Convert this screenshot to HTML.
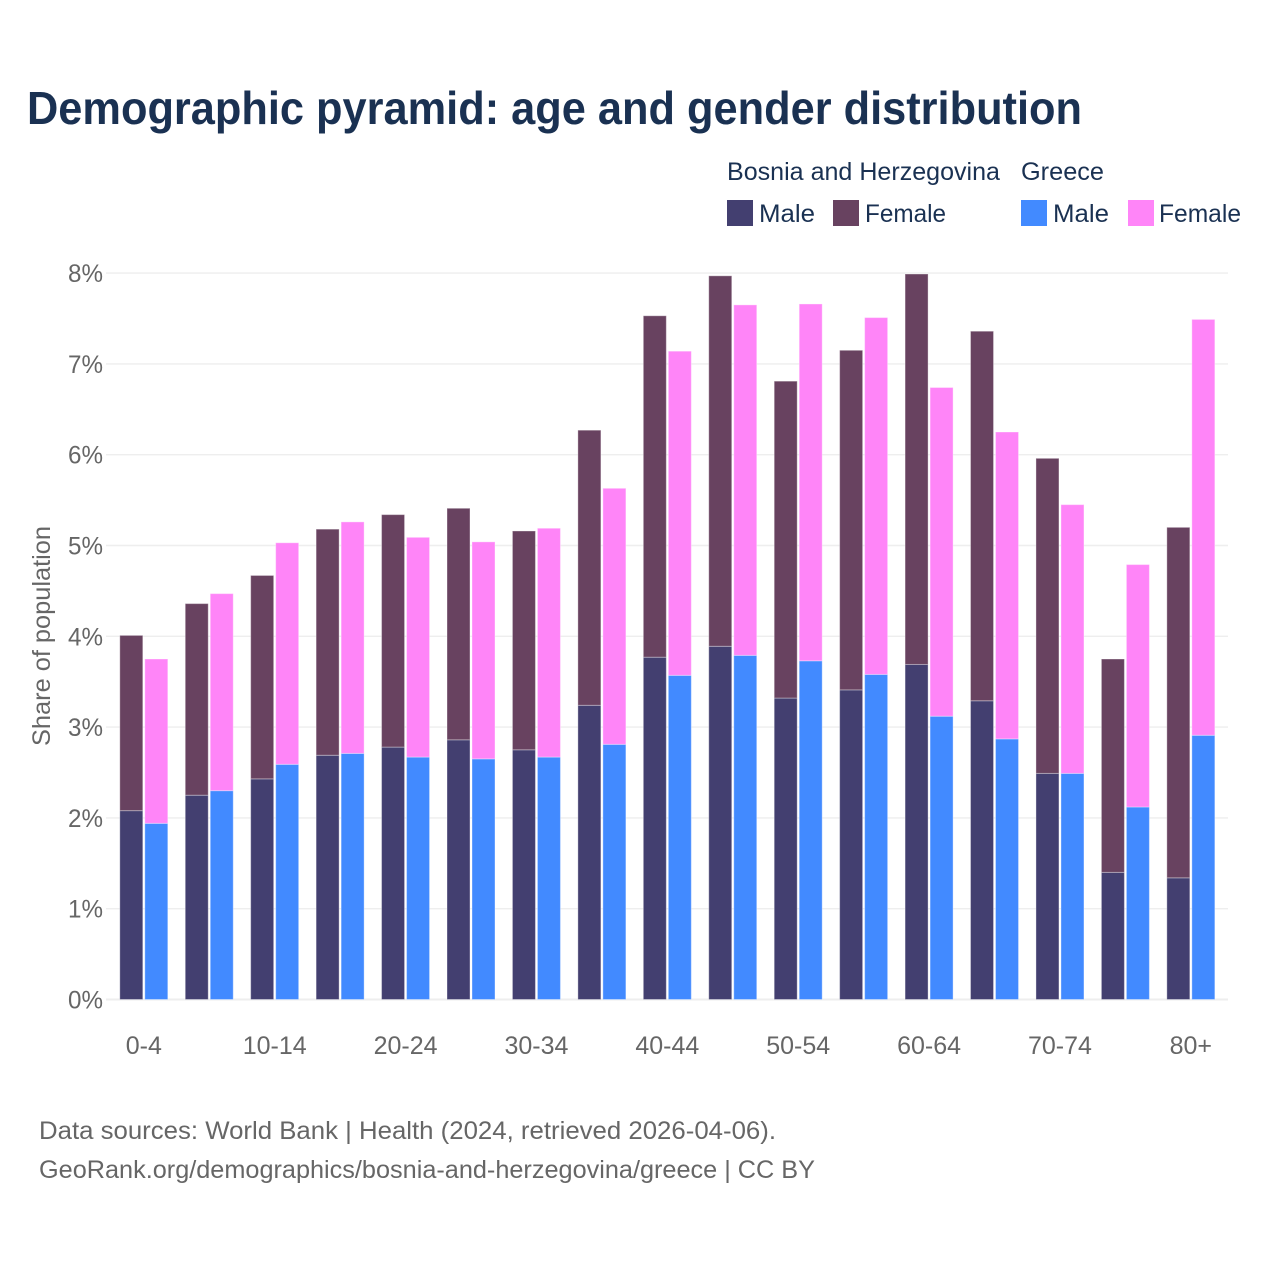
<!DOCTYPE html>
<html lang="en">
<head>
<meta charset="utf-8">
<title>Demographic pyramid: age and gender distribution</title>
<style>
html,body{margin:0;padding:0;background:#fff;}
svg{display:block;font-family:"Liberation Sans",sans-serif;}
</style>
</head>
<body>
<svg id="chart" width="1280" height="1280" viewBox="0 0 1280 1280" xmlns="http://www.w3.org/2000/svg">
  <rect width="1280" height="1280" fill="#ffffff"/>
  <text x="27" y="124" font-size="46" font-weight="700" fill="#1a3152" textLength="1055" lengthAdjust="spacingAndGlyphs">Demographic pyramid: age and gender distribution</text>

  <g font-size="25" fill="#1a3152">
    <text x="727" y="180" textLength="273" lengthAdjust="spacingAndGlyphs">Bosnia and Herzegovina</text>
    <text x="1021" y="180" textLength="83" lengthAdjust="spacingAndGlyphs">Greece</text>
    <rect x="727" y="200" width="26" height="26" fill="#433f70"/>
    <text x="759" y="222" textLength="56" lengthAdjust="spacingAndGlyphs">Male</text>
    <rect x="833" y="200" width="26" height="26" fill="#684260"/>
    <text x="865" y="222" textLength="81" lengthAdjust="spacingAndGlyphs">Female</text>
    <rect x="1021" y="200" width="26" height="26" fill="#428aff"/>
    <text x="1053" y="222" textLength="56" lengthAdjust="spacingAndGlyphs">Male</text>
    <rect x="1128" y="200" width="26" height="26" fill="#ff85f8"/>
    <text x="1159" y="222" textLength="82" lengthAdjust="spacingAndGlyphs">Female</text>
  </g>

  <g id="grid"></g>
  <g id="y-ticks" font-size="25" fill="#666666" text-anchor="end"></g>
  <g id="bars"></g>
  <g id="x-ticks" font-size="25" fill="#666666" text-anchor="middle"></g>

  <text transform="translate(50,636) rotate(-90)" text-anchor="middle" font-size="25" fill="#666666" textLength="220" lengthAdjust="spacingAndGlyphs">Share of population</text>

  <text x="39" y="1139" font-size="25" fill="#666666" textLength="737" lengthAdjust="spacingAndGlyphs">Data sources: World Bank | Health (2024, retrieved 2026-04-06).</text>
  <text x="39" y="1178" font-size="25" fill="#666666" textLength="776" lengthAdjust="spacingAndGlyphs">GeoRank.org/demographics/bosnia-and-herzegovina/greece | CC BY</text>
</svg>
<script>
const categories = ["0-4","5-9","10-14","15-19","20-24","25-29","30-34","35-39","40-44","45-49","50-54","55-59","60-64","65-69","70-74","75-79","80+"];
const bosniaMale = [2.08,2.25,2.43,2.69,2.78,2.86,2.75,3.24,3.77,3.89,3.32,3.41,3.69,3.29,2.49,1.40,1.34];
const bosniaFemale = [1.93,2.11,2.24,2.49,2.56,2.55,2.41,3.03,3.76,4.08,3.49,3.74,4.30,4.07,3.47,2.35,3.86];
const greeceMale = [1.94,2.30,2.59,2.71,2.67,2.65,2.67,2.81,3.57,3.79,3.73,3.58,3.12,2.87,2.49,2.12,2.91];
const greeceFemale = [1.81,2.17,2.44,2.55,2.42,2.39,2.52,2.82,3.57,3.86,3.93,3.93,3.62,3.38,2.96,2.67,4.58];
const yTicks = [0,1,2,3,4,5,6,7,8];

const NS = "http://www.w3.org/2000/svg";
const plotBottom = 999.5, plotUnit = 90.8;
const firstCenter = 143.8, bandStep = 65.44;
const barWidth = 23, barGap = 2;
const yScale = v => plotBottom - v * plotUnit;
const xScale = i => firstCenter + i * bandStep;
const gridGroup = document.getElementById("grid");
const yTickGroup = document.getElementById("y-ticks");
const barsGroup = document.getElementById("bars");
const xTickGroup = document.getElementById("x-ticks");

yTicks.forEach(t => {
  const line = document.createElementNS(NS, "line");
  
  
  line.setAttribute("x1", 106);
  line.setAttribute("x2", 1228);
  line.setAttribute("y1", yScale(t));
  line.setAttribute("y2", yScale(t));
  line.setAttribute("stroke", "#eeeeee");
  line.setAttribute("stroke-width", t === 0 ? 2 : 1.4);
  gridGroup.appendChild(line);

  const label = document.createElementNS(NS, "text");
  
  
  label.setAttribute("x", 103);
  label.setAttribute("y", yScale(t) + 9);
  label.setAttribute("textLength", 35);
  label.setAttribute("lengthAdjust", "spacingAndGlyphs");
  label.textContent = t + "%";
  yTickGroup.appendChild(label);
});

function addBar(name, x, base, value, fill) {
  const top = yScale(base + value);
  const bar = document.createElementNS(NS, "rect");
  
  
  bar.setAttribute("x", x);
  bar.setAttribute("y", top);
  bar.setAttribute("width", barWidth);
  bar.setAttribute("height", yScale(base) - top);
  bar.setAttribute("fill", fill);
  bar.setAttribute("stroke", "#ffffff");
  bar.setAttribute("stroke-opacity", "0.35");
  bar.setAttribute("stroke-width", "1");
  barsGroup.appendChild(bar);
}

categories.forEach((cat, i) => {
  const c = xScale(i);
  const leftX = c - barGap / 2 - barWidth;
  const rightX = c + barGap / 2;
  addBar("bar-bosnia-male-" + cat, leftX, 0, bosniaMale[i], "#433f70");
  addBar("bar-bosnia-female-" + cat, leftX, bosniaMale[i], bosniaFemale[i], "#684260");
  addBar("bar-greece-male-" + cat, rightX, 0, greeceMale[i], "#428aff");
  addBar("bar-greece-female-" + cat, rightX, greeceMale[i], greeceFemale[i], "#ff85f8");
  if (i % 2 === 0) {
    const label = document.createElementNS(NS, "text");
    
    
    label.setAttribute("x", c);
    label.setAttribute("y", 1054);
    label.textContent = cat;
    xTickGroup.appendChild(label);
  }
});
</script>
</body>
</html>
